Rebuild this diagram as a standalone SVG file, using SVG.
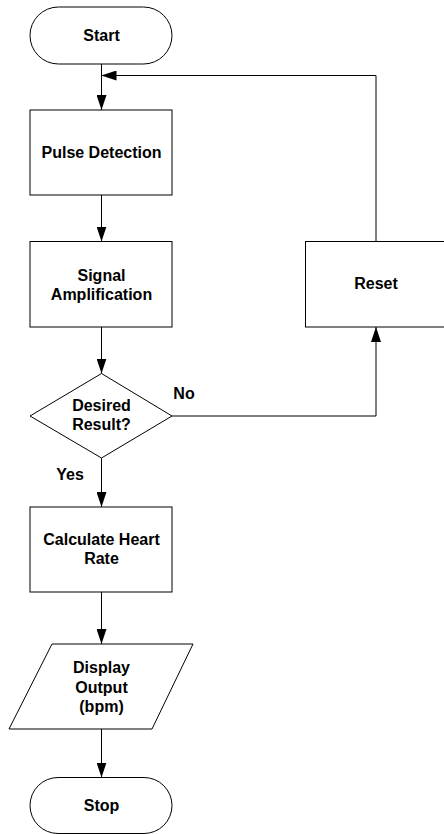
<svg xmlns="http://www.w3.org/2000/svg" width="444" height="834" viewBox="0 0 444 834">
<style>
.s{fill:#fff;stroke:#000;stroke-width:1}
.t{font-family:"Liberation Sans",Arial,sans-serif;font-weight:bold;font-size:16px;fill:#000;text-anchor:middle}
.c{fill:none;stroke:#000;stroke-width:1}
</style>
<defs>
<marker id="a" markerWidth="15" markerHeight="10" refX="15" refY="5" orient="auto" markerUnits="userSpaceOnUse">
<path d="M0,0 L15,5 L0,10 Z" fill="#000"/>
</marker>
</defs>
<rect width="444" height="834" fill="#fff"/>
<g id="connectors">
<line class="c" x1="101.5" y1="64" x2="101.5" y2="110" marker-end="url(#a)"/>
<line class="c" x1="101.5" y1="195" x2="101.5" y2="241.5" marker-end="url(#a)"/>
<line class="c" x1="101.5" y1="327" x2="101.5" y2="373.5" marker-end="url(#a)"/>
<line class="c" x1="101.5" y1="458" x2="101.5" y2="507" marker-end="url(#a)"/>
<line class="c" x1="101.5" y1="592" x2="101.5" y2="644" marker-end="url(#a)"/>
<line class="c" x1="101.5" y1="729" x2="101.5" y2="777.5" marker-end="url(#a)"/>
<polyline class="c" points="172,416 376,416 376,327" marker-end="url(#a)"/>
<polyline class="c" points="376,241.5 376,75.5 101.5,75.5" marker-end="url(#a)"/>
<text class="t" x="184" y="398.5">No</text>
<text class="t" x="70" y="480">Yes</text>
</g>
<g id="start">
<rect class="s" x="30" y="7" width="142" height="57" rx="28.5"/>
<text class="t" x="101.5" y="41">Start</text>
</g>
<g id="pulse">
<rect class="s" x="30" y="110" width="142" height="85"/>
<text class="t" x="101.5" y="158">Pulse Detection</text>
</g>
<g id="signal">
<rect class="s" x="30" y="241.5" width="142" height="85.5"/>
<text class="t" x="101.5" y="280.5">Signal</text>
<text class="t" x="101.5" y="299.5">Amplification</text>
</g>
<g id="decision">
<polygon class="s" points="101.5,373.5 172,416 101.5,458 30,416"/>
<text class="t" x="101.5" y="410.5">Desired</text>
<text class="t" x="101.5" y="429.5">Result?</text>
</g>
<g id="reset">
<rect class="s" x="305.5" y="241.5" width="142" height="85.5"/>
<text class="t" x="376" y="289">Reset</text>
</g>
<g id="calc">
<rect class="s" x="30" y="507" width="142" height="85"/>
<text class="t" x="101.5" y="544.5">Calculate Heart</text>
<text class="t" x="101.5" y="563.5">Rate</text>
</g>
<g id="display">
<polygon class="s" points="52,644 193,644 152,729 9,729"/>
<text class="t" x="101.5" y="673">Display</text>
<text class="t" x="101.5" y="692.5">Output</text>
<text class="t" x="101.5" y="712">(bpm)</text>
</g>
<g id="stop">
<rect class="s" x="30" y="777.5" width="142" height="56" rx="28"/>
<text class="t" x="101.5" y="811">Stop</text>
</g>
</svg>
